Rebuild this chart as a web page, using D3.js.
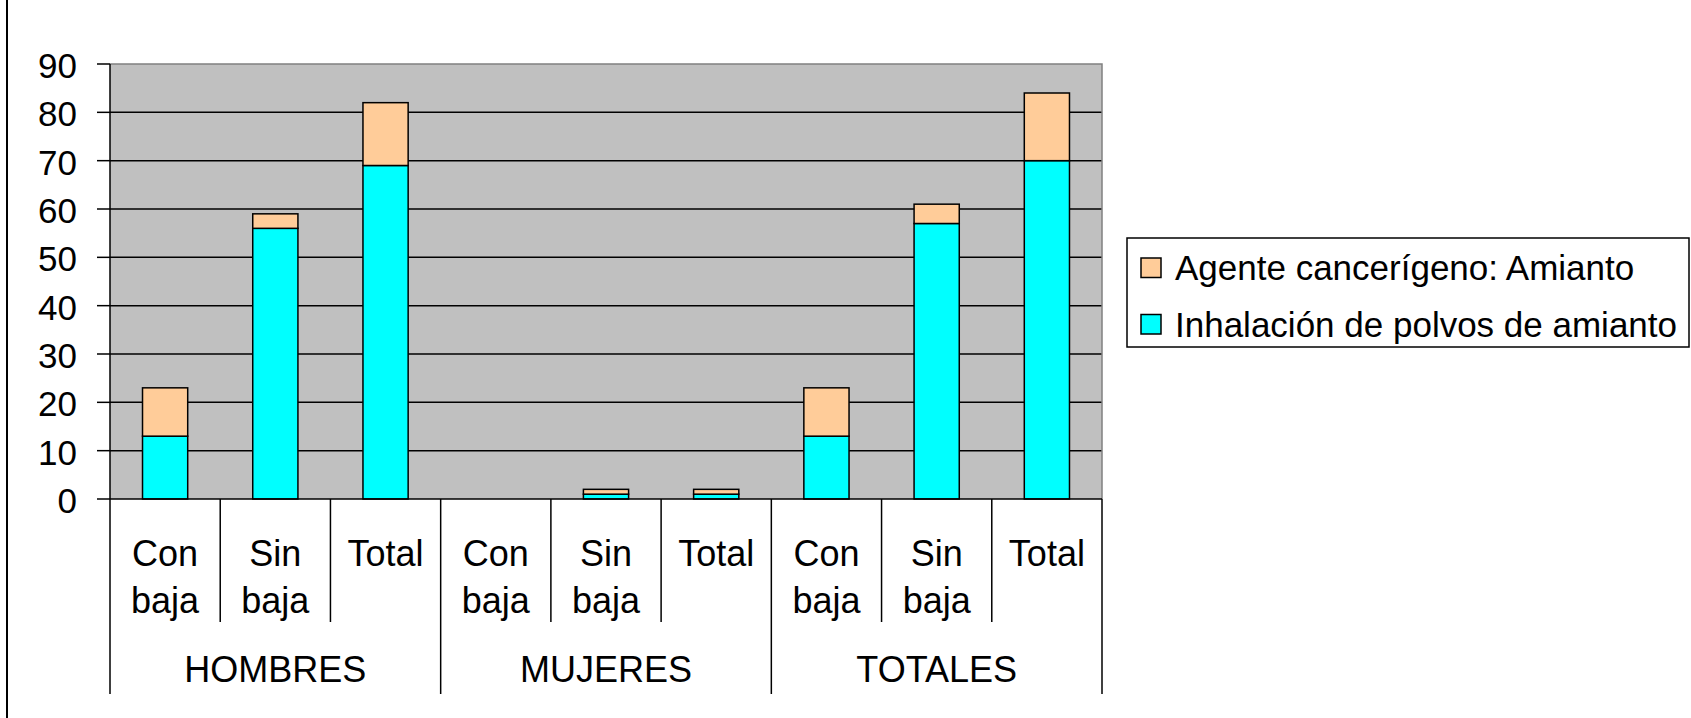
<!DOCTYPE html>
<meta charset="utf-8">
<style>
body { margin: 0; background: #fff; }
svg { display: block; font-family: "Liberation Sans", Arial, sans-serif; }
.grid line { stroke: #000; stroke-width: 1.5px; }
.bars rect { stroke: #000; stroke-width: 1.5px; }
text { fill: #000; font-size: 35px; }
.cat text { font-size: 36px; }
</style>
<svg width="1691" height="718"></svg>
<script src="https://d3js.org/d3.v7.min.js"></script>
<script>

var groups = ["HOMBRES", "MUJERES", "TOTALES"];
var subLabels = [["Con", "baja"], ["Sin", "baja"], ["Total"]];
var seriesNames = ["Inhalación de polvos de amianto", "Agente cancerígeno: Amianto"];
var inhalacion = [13, 56, 69, 0, 1, 1, 13, 57, 70];
var agente = [10, 3, 13, 0, 1, 1, 10, 4, 14];
var yTicks = [0, 10, 20, 30, 40, 50, 60, 70, 80, 90];

var colors = {"Inhalación de polvos de amianto": "#00FFFF", "Agente cancerígeno: Amianto": "#FFCC99"};

var plot = {left: 110, right: 1102, top: 64, bottom: 499};

var svg = d3.select("svg");

// left border of the chart area
svg.append("line")
	.attr("x1", 7).attr("x2", 7).attr("y1", 0).attr("y2", 718)
	.attr("stroke", "#000").attr("stroke-width", 2);

var rows = [];
groups.forEach(function(g, gi) {
	subLabels.forEach(function(s, si) {
		var i = gi * subLabels.length + si;
		rows.push({key: g + "-" + si, group: g, label: s,
			"Inhalación de polvos de amianto": inhalacion[i],
			"Agente cancerígeno: Amianto": agente[i]});
	});
});

var x = d3.scaleBand()
	.domain(rows.map(function(d) { return d.key; }))
	.range([plot.left, plot.right])
	.padding(0);

var y = d3.scaleLinear().domain([0, 90]).range([plot.bottom, plot.top]);

svg.append("rect")
	.attr("x", plot.left).attr("y", plot.top)
	.attr("width", plot.right - plot.left).attr("height", plot.bottom - plot.top)
	.attr("fill", "#C0C0C0");

svg.append("g").attr("class", "grid")
	.selectAll("line")
	.data(yTicks.filter(function(t) { return t > 0 && t < 90; }))
	.enter().append("line")
		.attr("x1", plot.left).attr("x2", plot.right)
		.attr("y1", function(d) { return y(d); })
		.attr("y2", function(d) { return y(d); });

// top and right plot border
svg.append("path")
	.attr("d", "M" + plot.left + "," + y(90) + "H" + plot.right + "V" + plot.bottom)
	.attr("fill", "none").attr("stroke", "#808080").attr("stroke-width", 1.5);

var stack = d3.stack().keys(seriesNames);
var series = stack(rows);

var barW = x.bandwidth() * 0.41;

svg.append("g").attr("class", "bars")
	.selectAll("g")
	.data(series)
	.enter().append("g")
		.attr("fill", function(d) { return colors[d.key]; })
	.selectAll("rect")
	.data(function(d) { return d.filter(function(p) { return p[1] > p[0]; }); })
	.enter().append("rect")
		.attr("x", function(d) { return x(d.data.key) + (x.bandwidth() - barW) / 2; })
		.attr("width", barW)
		.attr("y", function(d) { return y(d[1]); })
		.attr("height", function(d) { return y(d[0]) - y(d[1]); });

// y axis
var yAxis = svg.append("g");
yAxis.append("line")
	.attr("x1", plot.left).attr("x2", plot.left)
	.attr("y1", y(90)).attr("y2", plot.bottom)
	.attr("stroke", "#000").attr("stroke-width", 1.5);
yAxis.selectAll(".tick")
	.data(yTicks)
	.enter().append("line")
		.attr("x1", 97).attr("x2", plot.left)
		.attr("y1", function(d) { return y(d); })
		.attr("y2", function(d) { return y(d); })
		.attr("stroke", "#000").attr("stroke-width", 1.5);
yAxis.selectAll("text")
	.data(yTicks)
	.enter().append("text")
		.attr("x", 77)
		.attr("y", function(d) { return y(d) + 14; })
		.attr("text-anchor", "end")
		.text(function(d) { return d; });

// x axis
var xAxis = svg.append("g").attr("class", "cat");
xAxis.append("line")
	.attr("x1", plot.left).attr("x2", plot.right)
	.attr("y1", plot.bottom).attr("y2", plot.bottom)
	.attr("stroke", "#000").attr("stroke-width", 1.5);

var bounds = d3.range(rows.length + 1);
xAxis.selectAll(".div")
	.data(bounds)
	.enter().append("line")
		.attr("x1", function(i) { return plot.left + i * x.bandwidth(); })
		.attr("x2", function(i) { return plot.left + i * x.bandwidth(); })
		.attr("y1", plot.bottom)
		.attr("y2", function(i) { return i % subLabels.length === 0 ? 694 : 622; })
		.attr("stroke", "#000").attr("stroke-width", 1.5);

xAxis.selectAll(".sub")
	.data(rows)
	.enter().append("text")
		.attr("text-anchor", "middle")
		.attr("x", function(d) { return x(d.key) + x.bandwidth() / 2; })
		.attr("y", 566)
		.each(function(d) {
			var t = d3.select(this);
			d.label.forEach(function(l, li) {
				t.append("tspan")
					.attr("x", x(d.key) + x.bandwidth() / 2)
					.attr("dy", li === 0 ? 0 : 47)
					.text(l);
			});
		});

xAxis.selectAll(".grp")
	.data(groups)
	.enter().append("text")
		.attr("text-anchor", "middle")
		.attr("x", function(g) {
			var first = x(g + "-0"), last = x(g + "-" + (subLabels.length - 1)) + x.bandwidth();
			return (first + last) / 2;
		})
		.attr("y", 682)
		.text(function(g) { return g; });

// legend
var legend = svg.append("g");
legend.append("rect")
	.attr("x", 1127).attr("y", 238)
	.attr("width", 562).attr("height", 109)
	.attr("fill", "#fff").attr("stroke", "#000").attr("stroke-width", 1.5);

var legendOrder = seriesNames.slice().reverse();
var item = legend.selectAll(".item")
	.data(legendOrder)
	.enter().append("g")
		.attr("transform", function(d, i) { return "translate(1141," + (258 + i * 56.5) + ")"; });
item.append("rect")
	.attr("width", 20).attr("height", 19.5)
	.attr("fill", function(d) { return colors[d]; })
	.attr("stroke", "#000").attr("stroke-width", 1.5);
item.append("text")
	.attr("x", 34).attr("y", 22)
	.text(function(d) { return d; });

</script>
